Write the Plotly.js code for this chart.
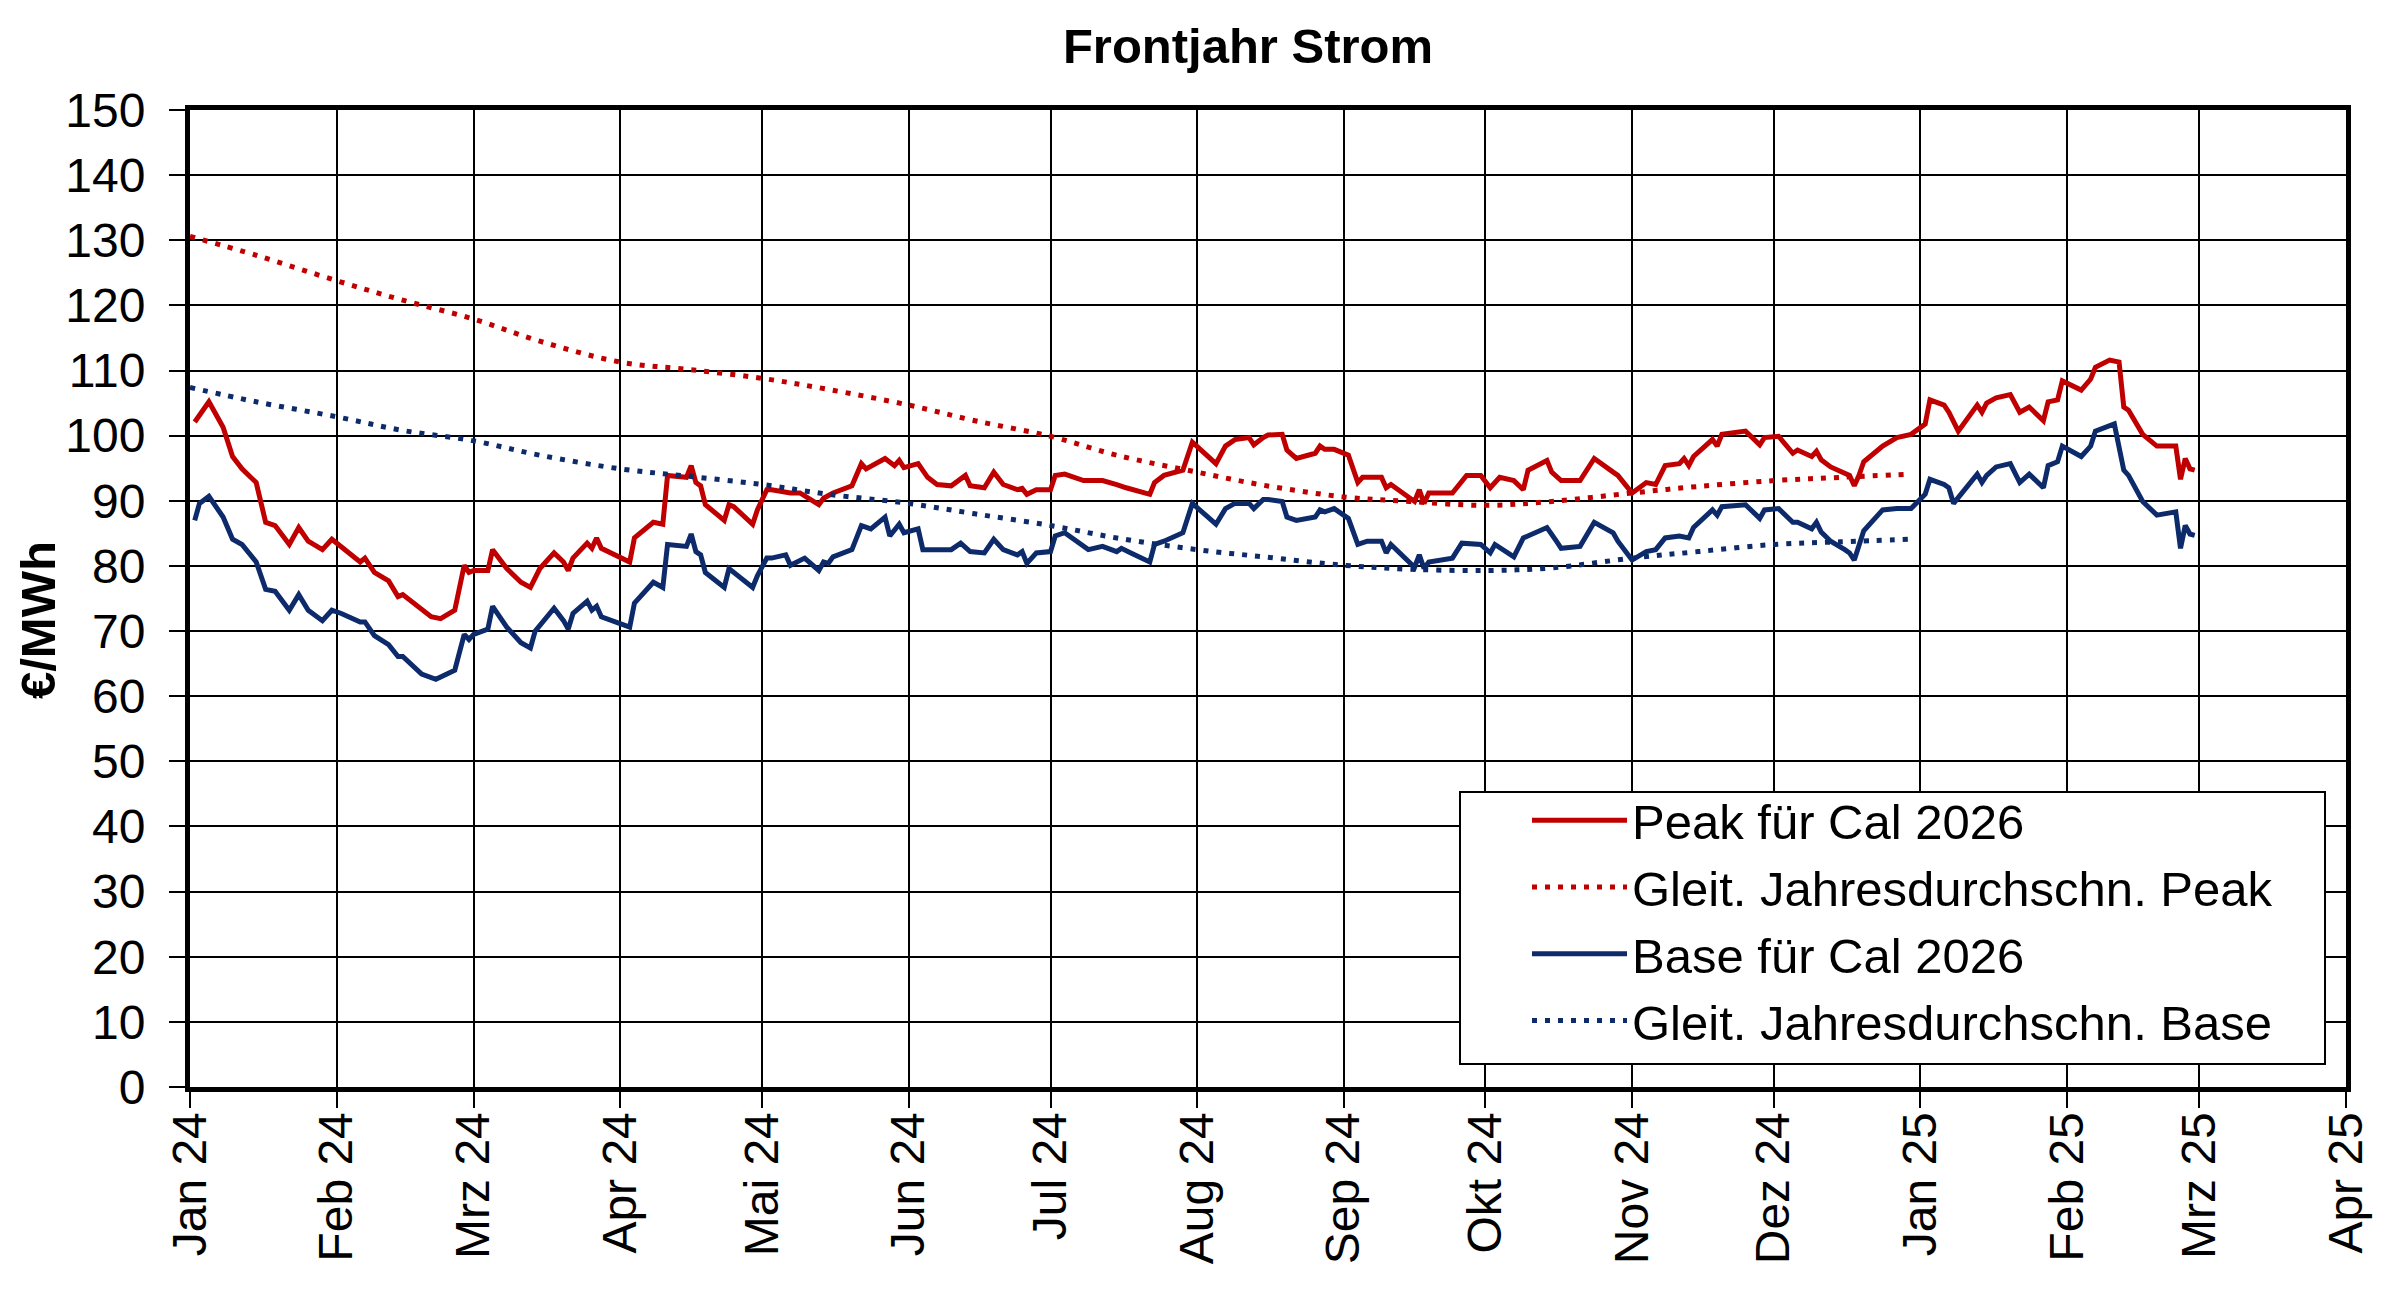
<!DOCTYPE html>
<html>
<head>
<meta charset="utf-8">
<script src="https://cdn.plot.ly/plotly-3.0.1.min.js"></script>
<style>
html,body{margin:0;padding:0;background:#fff;}
#chart{width:2400px;height:1296px;}
</style>
</head>
<body>
<div id="chart"></div>
<script>
// ---- data ----
const peakDates = ["2024-01-02","2024-01-05","2024-01-08","2024-01-10","2024-01-12","2024-01-15","2024-01-17","2024-01-19","2024-01-22","2024-01-24","2024-01-26","2024-01-29","2024-01-31","2024-02-02","2024-02-06","2024-02-07","2024-02-09","2024-02-12","2024-02-14","2024-02-15","2024-02-21","2024-02-23","2024-02-26","2024-02-28","2024-02-29","2024-03-01","2024-03-04","2024-03-05","2024-03-08","2024-03-11","2024-03-13","2024-03-15","2024-03-18","2024-03-20","2024-03-21","2024-03-22","2024-03-25","2024-03-26","2024-03-27","2024-03-28","2024-04-03","2024-04-04","2024-04-08","2024-04-10","2024-04-11","2024-04-15","2024-04-16","2024-04-17","2024-04-18","2024-04-19","2024-04-23","2024-04-24","2024-04-25","2024-04-29","2024-04-30","2024-05-02","2024-05-03","2024-05-07","2024-05-09","2024-05-13","2024-05-14","2024-05-16","2024-05-20","2024-05-22","2024-05-23","2024-05-27","2024-05-29","2024-05-30","2024-05-31","2024-06-03","2024-06-05","2024-06-07","2024-06-10","2024-06-13","2024-06-14","2024-06-17","2024-06-19","2024-06-21","2024-06-24","2024-06-25","2024-06-26","2024-06-28","2024-07-01","2024-07-02","2024-07-04","2024-07-08","2024-07-12","2024-07-15","2024-07-17","2024-07-22","2024-07-23","2024-07-25","2024-07-29","2024-07-31","2024-08-05","2024-08-07","2024-08-09","2024-08-12","2024-08-13","2024-08-15","2024-08-16","2024-08-19","2024-08-20","2024-08-22","2024-08-26","2024-08-27","2024-08-28","2024-08-30","2024-09-02","2024-09-04","2024-09-05","2024-09-09","2024-09-10","2024-09-11","2024-09-16","2024-09-17","2024-09-18","2024-09-19","2024-09-24","2024-09-27","2024-09-30","2024-10-02","2024-10-04","2024-10-07","2024-10-09","2024-10-10","2024-10-14","2024-10-15","2024-10-17","2024-10-21","2024-10-24","2024-10-28","2024-10-29","2024-11-01","2024-11-04","2024-11-06","2024-11-08","2024-11-11","2024-11-12","2024-11-13","2024-11-14","2024-11-18","2024-11-19","2024-11-20","2024-11-25","2024-11-28","2024-11-29","2024-12-02","2024-12-05","2024-12-06","2024-12-09","2024-12-10","2024-12-11","2024-12-13","2024-12-16","2024-12-17","2024-12-18","2024-12-19","2024-12-20","2024-12-24","2024-12-27","2024-12-30","2025-01-02","2025-01-03","2025-01-06","2025-01-07","2025-01-09","2025-01-13","2025-01-14","2025-01-15","2025-01-17","2025-01-20","2025-01-22","2025-01-24","2025-01-27","2025-01-28","2025-01-30","2025-01-31","2025-02-04","2025-02-06","2025-02-07","2025-02-10","2025-02-12","2025-02-13","2025-02-14","2025-02-17","2025-02-20","2025-02-24","2025-02-25","2025-02-26","2025-02-27","2025-02-28"];
const peakValues = [102.1,105.2,101.3,96.8,94.9,92.8,86.7,86.2,83.3,85.9,83.8,82.5,84.1,83.0,80.6,81.2,79.0,77.7,75.3,75.6,72.2,71.9,73.2,80.1,79.0,79.3,79.3,82.5,79.6,77.5,76.7,79.6,82.0,80.6,79.3,81.2,83.5,82.7,84.3,82.7,80.6,84.3,86.7,86.4,93.9,93.6,95.4,92.8,92.3,89.4,87.0,89.4,89.1,86.4,88.6,91.7,91.7,91.2,91.2,89.4,90.4,91.2,92.3,95.7,94.9,96.5,95.4,96.2,95.1,95.7,93.6,92.5,92.3,93.9,92.3,92.0,94.4,92.5,91.7,91.9,91.0,91.7,91.7,93.9,94.1,93.1,93.1,92.5,92.0,91.0,92.8,93.9,94.7,99.0,95.7,98.4,99.4,99.7,98.6,99.7,100.1,100.2,97.8,96.5,97.3,98.4,97.9,97.9,97.0,92.8,93.6,93.6,92.0,92.5,89.9,91.7,89.6,91.2,91.2,93.9,93.9,92.0,93.6,93.1,91.7,94.7,96.2,94.4,93.1,93.1,96.5,94.4,93.9,91.2,92.8,92.5,95.4,95.7,96.5,95.4,96.8,99.4,98.4,100.2,100.7,98.6,99.7,99.9,97.3,97.8,96.8,97.6,96.3,95.2,94.1,93.9,92.3,93.9,96.0,98.4,99.7,100.2,101.8,105.5,104.7,103.6,100.7,104.7,103.6,105.0,105.8,106.3,103.6,104.4,102.3,105.2,105.5,108.4,107.0,108.7,110.5,111.6,111.3,104.4,103.9,100.2,98.4,98.4,93.3,96.5,94.9,94.7];

const baseDates = ["2024-01-02","2024-01-03","2024-01-05","2024-01-08","2024-01-10","2024-01-12","2024-01-15","2024-01-17","2024-01-19","2024-01-22","2024-01-24","2024-01-26","2024-01-29","2024-01-31","2024-02-02","2024-02-06","2024-02-07","2024-02-09","2024-02-12","2024-02-14","2024-02-15","2024-02-19","2024-02-22","2024-02-26","2024-02-28","2024-02-29","2024-03-01","2024-03-04","2024-03-05","2024-03-08","2024-03-11","2024-03-13","2024-03-14","2024-03-18","2024-03-20","2024-03-21","2024-03-22","2024-03-25","2024-03-26","2024-03-27","2024-03-28","2024-04-03","2024-04-04","2024-04-08","2024-04-10","2024-04-11","2024-04-15","2024-04-16","2024-04-17","2024-04-18","2024-04-19","2024-04-23","2024-04-24","2024-04-25","2024-04-29","2024-04-30","2024-05-02","2024-05-03","2024-05-06","2024-05-07","2024-05-10","2024-05-13","2024-05-14","2024-05-15","2024-05-16","2024-05-20","2024-05-22","2024-05-24","2024-05-27","2024-05-28","2024-05-30","2024-05-31","2024-06-03","2024-06-04","2024-06-10","2024-06-12","2024-06-14","2024-06-17","2024-06-19","2024-06-21","2024-06-24","2024-06-25","2024-06-26","2024-06-28","2024-07-01","2024-07-02","2024-07-04","2024-07-09","2024-07-12","2024-07-15","2024-07-16","2024-07-18","2024-07-22","2024-07-23","2024-07-25","2024-07-29","2024-07-31","2024-08-05","2024-08-07","2024-08-09","2024-08-12","2024-08-13","2024-08-15","2024-08-16","2024-08-19","2024-08-20","2024-08-22","2024-08-26","2024-08-27","2024-08-28","2024-08-30","2024-09-02","2024-09-04","2024-09-06","2024-09-09","2024-09-10","2024-09-11","2024-09-16","2024-09-17","2024-09-18","2024-09-19","2024-09-24","2024-09-26","2024-09-30","2024-10-02","2024-10-03","2024-10-07","2024-10-09","2024-10-14","2024-10-16","2024-10-17","2024-10-21","2024-10-24","2024-10-28","2024-10-29","2024-11-01","2024-11-04","2024-11-06","2024-11-08","2024-11-11","2024-11-13","2024-11-14","2024-11-18","2024-11-19","2024-11-20","2024-11-25","2024-11-28","2024-11-29","2024-12-02","2024-12-05","2024-12-06","2024-12-09","2024-12-10","2024-12-11","2024-12-13","2024-12-16","2024-12-17","2024-12-18","2024-12-19","2024-12-20","2024-12-24","2024-12-27","2024-12-30","2025-01-02","2025-01-03","2025-01-06","2025-01-07","2025-01-08","2025-01-13","2025-01-14","2025-01-15","2025-01-17","2025-01-20","2025-01-22","2025-01-24","2025-01-27","2025-01-28","2025-01-30","2025-01-31","2025-02-04","2025-02-06","2025-02-07","2025-02-11","2025-02-13","2025-02-14","2025-02-17","2025-02-20","2025-02-24","2025-02-25","2025-02-26","2025-02-27","2025-02-28"];
const baseValues = [87.0,89.6,90.7,87.5,84.1,83.3,80.6,76.4,76.1,73.2,75.6,73.2,71.6,73.2,72.7,71.4,71.4,69.3,67.9,66.1,66.1,63.4,62.6,64.0,69.5,68.7,69.5,70.3,73.8,70.6,68.2,67.4,70.0,73.5,71.6,70.3,72.7,74.6,73.2,73.8,72.2,70.6,74.3,77.5,76.7,83.3,83.0,84.9,82.2,81.7,79.0,76.7,79.6,79.0,76.7,78.5,81.2,81.2,81.7,80.1,81.2,79.3,80.6,80.4,81.4,82.5,86.2,85.7,87.5,84.6,86.4,85.1,85.7,82.5,82.5,83.5,82.2,82.0,84.1,82.5,81.7,82.2,80.4,82.0,82.2,84.6,85.1,82.5,83.0,82.2,82.7,82.0,80.6,83.3,83.8,85.1,89.6,86.4,88.8,89.6,89.6,88.8,90.2,90.2,89.9,87.5,87.0,87.5,88.6,88.3,88.8,87.3,83.3,83.8,83.8,82.0,83.3,79.8,81.7,79.6,80.6,81.2,83.5,83.3,82.0,83.3,81.4,84.3,85.9,83.8,82.7,83.0,86.7,85.1,83.8,80.9,82.2,82.5,84.3,84.6,84.3,85.9,88.6,87.8,89.1,89.4,87.3,88.6,88.8,86.7,86.7,85.7,86.7,85.2,83.8,82.5,82.0,80.9,83.3,85.4,88.6,88.8,88.8,91.0,93.3,92.5,92.0,89.6,94.1,92.8,93.9,95.2,95.7,92.8,94.1,92.0,95.4,96.0,98.4,96.8,98.4,100.7,101.8,94.7,93.9,89.9,87.8,88.3,82.7,86.2,84.9,84.7];

const avgDates = ["2024-01-01","2024-01-15","2024-02-01","2024-02-15","2024-03-01","2024-03-15","2024-04-01","2024-04-15","2024-05-01","2024-05-15","2024-06-01","2024-06-15","2024-07-01","2024-07-15","2024-08-01","2024-08-15","2024-09-01","2024-09-15","2024-10-01","2024-10-15","2024-11-01","2024-11-15","2024-12-01","2024-12-15","2024-12-30"];
const peakAvgValues = [130.6,127.7,123.8,120.8,117.9,114.5,111.3,110.2,108.8,107.1,104.7,102.3,99.9,97.0,94.4,92.4,90.6,89.9,89.3,89.9,91.2,92.2,93.1,93.6,94.1];
const baseAvgValues = [107.4,105.2,102.9,100.8,99.2,97.0,94.9,93.8,92.5,91.0,89.6,88.0,86.2,84.3,82.5,81.4,80.1,79.5,79.3,79.7,81.2,82.2,83.3,83.7,84.1];

const monthTicks = ["2024-01-01","2024-02-01","2024-03-01","2024-04-01","2024-05-01","2024-06-01","2024-07-01","2024-08-01","2024-09-01","2024-10-01","2024-11-01","2024-12-01","2025-01-01","2025-02-01","2025-03-01","2025-04-01"];
const monthLabels = ["Jan 24","Feb 24","Mrz 24","Apr 24","Mai 24","Jun 24","Jul 24","Aug 24","Sep 24","Okt 24","Nov 24","Dez 24","Jan 25","Feb 25","Mrz 25","Apr 25"];
const yTicks = [0,10,20,30,40,50,60,70,80,90,100,110,120,130,140,150];

const seriesNames = ["Peak für Cal 2026","Gleit. Jahresdurchschn. Peak","Base für Cal 2026","Gleit. Jahresdurchschn. Base"];

// ---- styling ----
const RED = "#C00000";
const BLUE = "#0D2A6B";
const FONT = "Liberation Sans, Arial, sans-serif";

const traces = [
  {x: peakDates, y: peakValues, name: seriesNames[0], legendgroup: "g1",
   type: "scatter", mode: "lines", line: {color: RED, width: 5}},
  {x: avgDates, y: peakAvgValues, name: seriesNames[1], legendgroup: "g2",
   type: "scatter", mode: "lines", line: {color: RED, width: 5, dash: "5px,8px", shape: "spline"}},
  {x: baseDates, y: baseValues, name: seriesNames[2], legendgroup: "g3",
   type: "scatter", mode: "lines", line: {color: BLUE, width: 5}},
  {x: avgDates, y: baseAvgValues, name: seriesNames[3], legendgroup: "g4",
   type: "scatter", mode: "lines", line: {color: BLUE, width: 5, dash: "5px,8px", shape: "spline"}}
];

const W = 2400, H = 1296;
const M = {l: 190, r: 54, t: 110, b: 209};
const plotW = W - M.l - M.r, plotH = H - M.t - M.b;
// legend box (pixels in the page) -> paper fractions
const boxL = 1460, boxR = 2325, boxT = 792, boxB = 1064;
const px2x = p => (p - M.l) / plotW;
const px2y = p => (H - M.b - p) / plotH;

const layout = {
  width: W, height: H,
  margin: M,
  paper_bgcolor: "#ffffff",
  plot_bgcolor: "#ffffff",
  font: {family: FONT, size: 48, color: "#000"},
  title: {text: "<b>Frontjahr Strom</b>", font: {family: FONT, size: 49, color: "#000"},
          x: 1248 / W, xanchor: "center", xref: "container", y: 1 - 46 / H, yanchor: "middle", yref: "container"},
  showlegend: true,
  legend: {
    x: px2x(1527), xanchor: "left",
    y: px2y(boxT - 10), yanchor: "top",
    bgcolor: "rgba(0,0,0,0)", borderwidth: 0,
    font: {family: FONT, size: 49, color: "#000"},
    itemwidth: 95, tracegroupgap: 0, traceorder: "grouped"
  },
  shapes: [{
    type: "rect", xref: "paper", yref: "paper", layer: "above",
    x0: px2x(boxL), x1: px2x(boxR), y0: px2y(boxB), y1: px2y(boxT),
    fillcolor: "#ffffff", line: {color: "#000", width: 2}
  }],
  annotations: [{
    text: "<b>€/MWh</b>", textangle: -90, showarrow: false,
    xref: "paper", yref: "paper", x: px2x(38), y: px2y(620),
    xanchor: "center", yanchor: "middle",
    font: {family: FONT, size: 49, color: "#000"}
  }],
  xaxis: {
    type: "date", range: ["2024-01-01", "2025-04-01"],
    tickmode: "array", tickvals: monthTicks, ticktext: monthLabels,
    tickangle: -90, tickfont: {family: FONT, size: 48, color: "#000"},
    ticks: "outside", ticklen: 16, tickwidth: 2, tickcolor: "#000",
    ticklabelstandoff: -15,
    showgrid: true, gridcolor: "#000", gridwidth: 2,
    showline: true, linecolor: "#000", linewidth: 5, mirror: true,
    zeroline: false, fixedrange: true
  },
  yaxis: {
    range: [0, 150], tickmode: "array", tickvals: yTicks,
    tickfont: {family: FONT, size: 48, color: "#000"},
    ticks: "outside", ticklen: 16, tickwidth: 2, tickcolor: "#000",
    ticklabelstandoff: 14,
    showgrid: true, gridcolor: "#000", gridwidth: 2,
    showline: true, linecolor: "#000", linewidth: 5, mirror: true,
    zeroline: false, fixedrange: true
  }
};

Plotly.newPlot("chart", traces, layout, {displayModeBar: false, staticPlot: true});
</script>
</body>
</html>
